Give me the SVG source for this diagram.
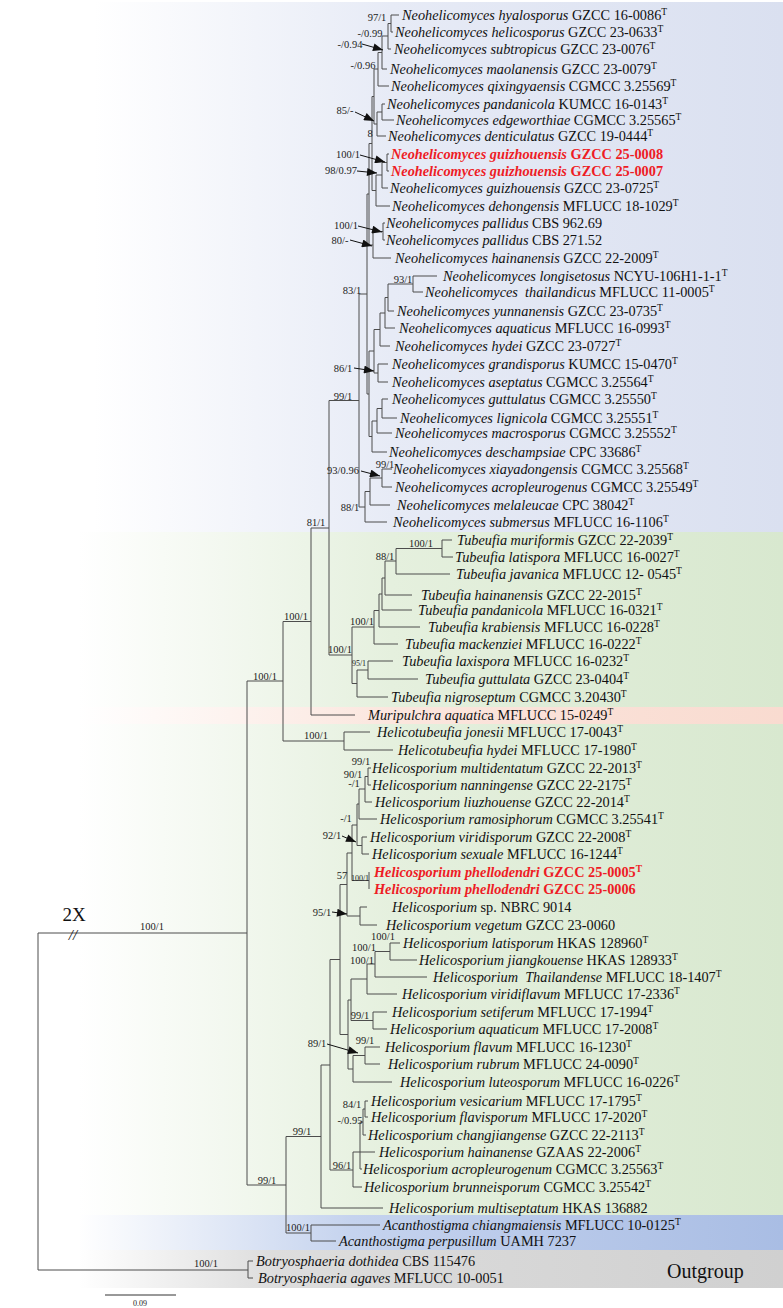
<svg xmlns="http://www.w3.org/2000/svg" width="783" height="1308" viewBox="0 0 783 1308">
<style>
.lf{font-family:"Liberation Serif","Times New Roman",serif;font-size:14.3px;fill:#111}
.i{font-style:italic}
.rd{fill:#ee1c25;font-weight:bold}
.s{font-size:9.5px}
.bs{font-family:"Liberation Serif","Times New Roman",serif;font-size:10.5px;fill:#222;text-anchor:middle}
.sm{font-size:8px}
.br{stroke:#4d4d4d;stroke-width:1;fill:none}
.ar{stroke:#111;stroke-width:1;fill:none;marker-end:url(#ah)}
</style>
<defs>
<marker id="ah" viewBox="0 0 10 8" markerWidth="11" markerHeight="8" refX="10" refY="4" orient="auto" markerUnits="userSpaceOnUse"><path d="M0,0 L10,4 L0,8 z" fill="#111"/></marker>
<linearGradient id="gBlue" gradientUnits="userSpaceOnUse" x1="0" y1="0" x2="783" y2="0"><stop offset="0" stop-color="#fff"/><stop offset="0.12" stop-color="#fff"/><stop offset="0.5" stop-color="#e7ebf6"/><stop offset="1" stop-color="#dae0f0"/></linearGradient>
<linearGradient id="gGreen" gradientUnits="userSpaceOnUse" x1="0" y1="0" x2="783" y2="0"><stop offset="0" stop-color="#fff"/><stop offset="0.1" stop-color="#fff"/><stop offset="0.5" stop-color="#e5f0de"/><stop offset="1" stop-color="#d8e8cf"/></linearGradient>
<linearGradient id="gPink" gradientUnits="userSpaceOnUse" x1="0" y1="0" x2="783" y2="0"><stop offset="0" stop-color="#fff"/><stop offset="0.1" stop-color="#fff"/><stop offset="0.5" stop-color="#fbe6de"/><stop offset="1" stop-color="#f9dbd0"/></linearGradient>
<linearGradient id="gAc" gradientUnits="userSpaceOnUse" x1="0" y1="0" x2="783" y2="0"><stop offset="0" stop-color="#fff"/><stop offset="0.1" stop-color="#fff"/><stop offset="0.45" stop-color="#c5d3ee"/><stop offset="1" stop-color="#a9bde4"/></linearGradient>
<linearGradient id="gGray" gradientUnits="userSpaceOnUse" x1="0" y1="0" x2="783" y2="0"><stop offset="0" stop-color="#fff"/><stop offset="0.1" stop-color="#fff"/><stop offset="0.35" stop-color="#dddddd"/><stop offset="1" stop-color="#d0d0d0"/></linearGradient>
</defs>
<rect width="783" height="1308" fill="#fff"/>
<g id="bands">
<rect x="0" y="2" width="783" height="530" fill="url(#gBlue)"/>
<rect x="0" y="532" width="783" height="175" fill="url(#gGreen)"/>
<rect x="0" y="707" width="783" height="17" fill="url(#gPink)"/>
<rect x="0" y="724" width="783" height="491" fill="url(#gGreen)"/>
<rect x="0" y="1215" width="783" height="35" fill="url(#gAc)"/>
<rect x="0" y="1250" width="783" height="38" fill="url(#gGray)"/>
</g>
<g id="connectors" class="br">
<path d="M38 933V1270M38 933H247M38 1270H248M248 1261V1278M248 1261H253M248 1278H253"/>
<path d="M247 681V1185M247 681H283M247 1185H286"/>
<path d="M283 621.5V741M283 621.5H311M283 741H344"/>
<path d="M311 528V715M311 528H329M311 715H355"/>
<path d="M329 400.5V655M329 400.5H359M329 655H352"/>
<path d="M344 732V750M344 732H370M344 750H393"/>
<path d="M286 1136.5V1233M286 1136.5H321M286 1233H311"/>
<path d="M311 1225V1241M311 1225H380M311 1241H336"/>
<path d="M321 1065V1208M321 1065H330M321 1208H383"/>
<path d="M330 959.5V1170M330 959.5H340M330 1170H353"/>
<path d="M353 1152V1187M353 1152H360M353 1187H362"/>
<path d="M360 1122V1169M360 1122H363M360 1152H375M360 1169H362"/>
<path d="M363 1109V1135M363 1109H365M363 1135H366"/>
<path d="M365 1101V1117M365 1101H368M365 1117H368"/>
<path d="M340 884.5V1034.5M340 884.5H347M340 1034.5H348"/>
<path d="M348 1000V1069M348 1000H351M348 1069H353"/>
<path d="M353 1055.5V1082M353 1055.5H365M353 1082H392"/>
<path d="M365 1047V1064M365 1047H380M365 1064H380"/>
<path d="M351 979V1020.5M351 979H367M351 1020.5H373"/>
<path d="M373 1012V1029M373 1012H387M373 1029H387"/>
<path d="M367 964V994M367 964H375M367 994H397"/>
<path d="M375 951.5V977M375 951.5H390M375 977H427"/>
<path d="M390 943V960M390 943H400M390 960H417"/>
<path d="M347 853V916M347 853H352M347 916H360"/>
<path d="M360 907V925M360 907H367M360 925H377"/>
<path d="M352 825V880.5M352 825H357M352 880.5H369"/>
<path d="M369 872V889"/>
<path d="M357 804V845.5M357 804H359M357 845.5H362"/>
<path d="M362 837V854M362 837H367M362 854H369"/>
<path d="M359 789V819M359 789H365M359 819H377"/>
<path d="M365 776.5V802M365 776.5H368M365 802H372"/>
<path d="M368 768V785M368 768H371M368 785H371"/>
<path d="M352 627V683.5M352 627H374M352 683.5H357"/>
<path d="M357 670V697M357 670H368M357 697H388"/>
<path d="M368 661V679M368 661H393M368 679H418"/>
<path d="M374 610.5V644M374 610.5H379M374 644H398"/>
<path d="M379 594V627M379 594H382M379 627H420"/>
<path d="M382 578V610M382 578H385M382 610H412"/>
<path d="M385 561V595M385 561H396M385 595H412"/>
<path d="M396 548.5V574M396 548.5H442M396 574H450"/>
<path d="M442 540V557M442 540H452M442 557H453"/>
<path d="M359 294V507M359 294H367M359 507H365"/>
<path d="M365 491.5V522M365 491.5H370M365 522H387"/>
<path d="M370 478V505M370 478H382M370 505H390"/>
<path d="M382 469V487M382 469H392M382 487H392"/>
<path d="M367 194V394M367 194H369M367 394H369"/>
<path d="M369 351V436.5M369 351H374M369 436.5H372"/>
<path d="M372 421V452M372 421H377M372 452H387"/>
<path d="M377 408.5V433M377 408.5H382M377 433H392"/>
<path d="M382 399V418M382 399H388M382 418H397"/>
<path d="M374 329.5V373M374 329.5H380M374 373H378"/>
<path d="M378 364V382M378 364H388M378 382H388"/>
<path d="M380 313V346M380 313H385M380 346H390"/>
<path d="M385 297.5V328M385 297.5H388M385 328H395"/>
<path d="M388 284V311M388 284H413M388 311H394"/>
<path d="M413 276V292M413 276H437M413 292H423"/>
<path d="M369 143.5V245M369 143.5H372M369 245H373"/>
<path d="M373 231.5V258M373 231.5H383M373 258H391"/>
<path d="M383 223V240M383 223H385M383 240H385"/>
<path d="M372 96.5V190.5M372 96.5H374M372 190.5H376"/>
<path d="M376 175V206M376 175H382M376 206H390"/>
<path d="M382 162.5V188M382 162.5H387M382 188H388"/>
<path d="M387 154V171M387 154H389M387 171H389"/>
<path d="M374 69V124M374 69H378M374 124H377"/>
<path d="M377 112V136M377 112H382M377 136H386"/>
<path d="M382 104V120M382 104H385M382 120H394"/>
<path d="M378 52.5V86M378 52.5H382M378 86H389"/>
<path d="M382 36V69M382 36H388M382 69H387"/>
<path d="M388 23.5V49M388 23.5H391M388 49H391"/>
<path d="M391 15V32M391 15H399M391 32H393"/>
<path d="M105 1295H176" stroke="#333"/>
</g>
<g id="arrows">
<path class="ar" d="M362 44L383 50"/>
<path class="ar" d="M355 112L374 121"/>
<path class="ar" d="M360 155L385 162"/>
<path class="ar" d="M357 171L377 173"/>
<path class="ar" d="M358 226L382 232"/>
<path class="ar" d="M350 240L372 246"/>
<path class="ar" d="M354 368L374 371"/>
<path class="ar" d="M361 471L380 476"/>
<path class="ar" d="M342 836L356 842"/>
<path class="ar" d="M332 912L347 914"/>
<path class="ar" d="M327 1044L358 1053"/>
</g>
<g id="support">
<text class="bs" x="377" y="21">97/1</text>
<text class="bs" x="370" y="36.5">-/0.99</text>
<text class="bs" x="350" y="47.5">-/0.94</text>
<text class="bs" x="363" y="68.5">-/0.96</text>
<text class="bs" x="345" y="113.5">85/-</text>
<text class="bs" x="370" y="137">8</text>
<text class="bs" x="348" y="157.5">100/1</text>
<text class="bs" x="341" y="173.5">98/0.97</text>
<text class="bs" x="346" y="228.5">100/1</text>
<text class="bs" x="340" y="243.5">80/-</text>
<text class="bs" x="403" y="282.5">93/1</text>
<text class="bs" x="352" y="294">83/1</text>
<text class="bs" x="343" y="371.5">86/1</text>
<text class="bs" x="343" y="399.5">99/1</text>
<text class="bs" x="343" y="473.5">93/0.96</text>
<text class="bs" x="385" y="467.5">99/1</text>
<text class="bs" x="350" y="510.5">88/1</text>
<text class="bs" x="316" y="526">81/1</text>
<text class="bs" x="421" y="546.5">100/1</text>
<text class="bs" x="385" y="559.5">88/1</text>
<text class="bs" x="362" y="624.5">100/1</text>
<text class="bs" x="340" y="652.5">100/1</text>
<text class="bs sm" x="359" y="665.5">95/1</text>
<text class="bs" x="296" y="619.5">100/1</text>
<text class="bs" x="265" y="679.5">100/1</text>
<text class="bs" x="316" y="738.5">100/1</text>
<text class="bs" x="361" y="764.5">99/1</text>
<text class="bs" x="353" y="777.5">90/1</text>
<text class="bs" x="354" y="786.5">-/1</text>
<text class="bs" x="346" y="821.5">-/1</text>
<text class="bs" x="332" y="838.5">92/1</text>
<text class="bs" x="342" y="878.5">57</text>
<text class="bs sm" x="360" y="881">100/1</text>
<text class="bs" x="322" y="915.5">95/1</text>
<text class="bs" x="383" y="940">100/1</text>
<text class="bs" x="364" y="950.5">100/1</text>
<text class="bs" x="362" y="963.5">100/1</text>
<text class="bs" x="360" y="1019">99/1</text>
<text class="bs" x="365" y="1043.5">99/1</text>
<text class="bs" x="317" y="1046.5">89/1</text>
<text class="bs" x="352" y="1107.5">84/1</text>
<text class="bs" x="350" y="1123.5">-/0.95</text>
<text class="bs" x="302" y="1134.5">99/1</text>
<text class="bs" x="342" y="1168.5">96/1</text>
<text class="bs" x="267" y="1183.5">99/1</text>
<text class="bs" x="298" y="1231">100/1</text>
<text class="bs" x="152" y="930">100/1</text>
<text class="bs" x="206" y="1267">100/1</text>
<text class="bs sm" x="140" y="1306">0.09</text>
<text x="74" y="921" font-family="Liberation Serif, serif" font-size="19" text-anchor="middle" fill="#111">2X</text>
<text x="73" y="940" font-family="Liberation Serif, serif" font-size="15" font-style="italic" text-anchor="middle" fill="#111">//</text>
<text x="667" y="1278" font-family="Liberation Serif, serif" font-size="20" fill="#111">Outgroup</text>
</g>
<g id="taxa" class="lf">
<g id="t01"><text x="402" y="19.5"><tspan class="i">Neohelicomyces hyalosporus</tspan> GZCC 16-0086<tspan class="s" dy="-5">T</tspan></text></g>
<g id="t02"><text x="395" y="36.5"><tspan class="i">Neohelicomyces helicosporus</tspan> GZCC 23-0633<tspan class="s" dy="-5">T</tspan></text></g>
<g id="t03"><text x="394" y="53.5"><tspan class="i">Neohelicomyces subtropicus</tspan> GZCC 23-0076<tspan class="s" dy="-5">T</tspan></text></g>
<g id="t04"><text x="390" y="73.5"><tspan class="i">Neohelicomyces maolanensis</tspan> GZCC 23-0079<tspan class="s" dy="-5">T</tspan></text></g>
<g id="t05"><text x="391" y="90.5"><tspan class="i">Neohelicomyces qixingyaensis</tspan> CGMCC 3.25569<tspan class="s" dy="-5">T</tspan></text></g>
<g id="t06"><text x="387" y="108.5"><tspan class="i">Neohelicomyces pandanicola</tspan> KUMCC 16-0143<tspan class="s" dy="-5">T</tspan></text></g>
<g id="t07"><text x="396" y="124.5"><tspan class="i">Neohelicomyces edgeworthiae</tspan> CGMCC 3.25565<tspan class="s" dy="-5">T</tspan></text></g>
<g id="t08"><text x="388" y="140.5"><tspan class="i">Neohelicomyces denticulatus</tspan> GZCC 19-0444<tspan class="s" dy="-5">T</tspan></text></g>
<g id="t09"><text class="rd" x="391" y="158.5"><tspan class="i">Neohelicomyces guizhouensis</tspan> GZCC 25-0008</text></g>
<g id="t10"><text class="rd" x="391" y="175.5"><tspan class="i">Neohelicomyces guizhouensis</tspan> GZCC 25-0007</text></g>
<g id="t11"><text x="390" y="192.5"><tspan class="i">Neohelicomyces guizhouensis</tspan> GZCC 23-0725<tspan class="s" dy="-5">T</tspan></text></g>
<g id="t12"><text x="392" y="210.5"><tspan class="i">Neohelicomyces dehongensis</tspan> MFLUCC 18-1029<tspan class="s" dy="-5">T</tspan></text></g>
<g id="t13"><text x="386" y="227.5"><tspan class="i">Neohelicomyces pallidus</tspan> CBS 962.69</text></g>
<g id="t14"><text x="386" y="244.5"><tspan class="i">Neohelicomyces pallidus</tspan> CBS 271.52</text></g>
<g id="t15"><text x="395" y="262.5"><tspan class="i">Neohelicomyces hainanensis</tspan> GZCC 22-2009<tspan class="s" dy="-5">T</tspan></text></g>
<g id="t16"><text x="443" y="280.5"><tspan class="i">Neohelicomyces longisetosus</tspan> NCYU-106H1-1-1<tspan class="s" dy="-5">T</tspan></text></g>
<g id="t17"><text x="425" y="296.5" xml:space="preserve"><tspan class="i">Neohelicomyces  thailandicus</tspan> MFLUCC 11-0005<tspan class="s" dy="-5">T</tspan></text></g>
<g id="t18"><text x="397" y="315.5"><tspan class="i">Neohelicomyces yunnanensis</tspan> GZCC 23-0735<tspan class="s" dy="-5">T</tspan></text></g>
<g id="t19"><text x="399" y="332.5"><tspan class="i">Neohelicomyces aquaticus</tspan> MFLUCC 16-0993<tspan class="s" dy="-5">T</tspan></text></g>
<g id="t20"><text x="395" y="350.5"><tspan class="i">Neohelicomyces hydei</tspan> GZCC 23-0727<tspan class="s" dy="-5">T</tspan></text></g>
<g id="t21"><text x="392" y="368.5"><tspan class="i">Neohelicomyces grandisporus</tspan> KUMCC 15-0470<tspan class="s" dy="-5">T</tspan></text></g>
<g id="t22"><text x="392" y="386.5"><tspan class="i">Neohelicomyces aseptatus</tspan> CGMCC 3.25564<tspan class="s" dy="-5">T</tspan></text></g>
<g id="t23"><text x="392" y="403.5"><tspan class="i">Neohelicomyces guttulatus</tspan> CGMCC 3.25550<tspan class="s" dy="-5">T</tspan></text></g>
<g id="t24"><text x="400" y="422.5"><tspan class="i">Neohelicomyces lignicola</tspan> CGMCC 3.25551<tspan class="s" dy="-5">T</tspan></text></g>
<g id="t25"><text x="395" y="438"><tspan class="i">Neohelicomyces macrosporus</tspan> CGMCC 3.25552<tspan class="s" dy="-5">T</tspan></text></g>
<g id="t26"><text x="389" y="456.5"><tspan class="i">Neohelicomyces deschampsiae</tspan> CPC 33686<tspan class="s" dy="-5">T</tspan></text></g>
<g id="t27"><text x="393" y="473.5"><tspan class="i">Neohelicomyces xiayadongensis</tspan> CGMCC 3.25568<tspan class="s" dy="-5">T</tspan></text></g>
<g id="t28"><text x="395" y="491.5"><tspan class="i">Neohelicomyces acropleurogenus</tspan> CGMCC 3.25549<tspan class="s" dy="-5">T</tspan></text></g>
<g id="t29"><text x="397" y="509.5"><tspan class="i">Neohelicomyces melaleucae</tspan> CPC 38042<tspan class="s" dy="-5">T</tspan></text></g>
<g id="t30"><text x="393" y="526.5"><tspan class="i">Neohelicomyces submersus</tspan> MFLUCC 16-1106<tspan class="s" dy="-5">T</tspan></text></g>
<g id="t31"><text x="457" y="544.5"><tspan class="i">Tubeufia muriformis</tspan> GZCC 22-2039<tspan class="s" dy="-5">T</tspan></text></g>
<g id="t32"><text x="455" y="561.5"><tspan class="i">Tubeufia latispora</tspan> MFLUCC 16-0027<tspan class="s" dy="-5">T</tspan></text></g>
<g id="t33"><text x="456" y="578.5"><tspan class="i">Tubeufia javanica</tspan> MFLUCC 12- 0545<tspan class="s" dy="-5">T</tspan></text></g>
<g id="t34"><text x="421" y="599.5"><tspan class="i">Tubeufia hainanensis</tspan> GZCC 22-2015<tspan class="s" dy="-5">T</tspan></text></g>
<g id="t35"><text x="418" y="614.5"><tspan class="i">Tubeufia pandanicola</tspan> MFLUCC 16-0321<tspan class="s" dy="-5">T</tspan></text></g>
<g id="t36"><text x="428" y="631.5"><tspan class="i">Tubeufia krabiensis</tspan> MFLUCC 16-0228<tspan class="s" dy="-5">T</tspan></text></g>
<g id="t37"><text x="405" y="648.5"><tspan class="i">Tubeufia mackenziei</tspan> MFLUCC 16-0222<tspan class="s" dy="-5">T</tspan></text></g>
<g id="t38"><text x="402" y="665.5"><tspan class="i">Tubeufia laxispora</tspan> MFLUCC 16-0232<tspan class="s" dy="-5">T</tspan></text></g>
<g id="t39"><text x="425" y="683.5"><tspan class="i">Tubeufia guttulata</tspan> GZCC 23-0404<tspan class="s" dy="-5">T</tspan></text></g>
<g id="t40"><text x="391" y="701.5"><tspan class="i">Tubeufia nigroseptum</tspan> CGMCC 3.20430<tspan class="s" dy="-5">T</tspan></text></g>
<g id="t41"><text x="368" y="719.5"><tspan class="i">Muripulchra aquatic</tspan>a MFLUCC 15-0249<tspan class="s" dy="-5">T</tspan></text></g>
<g id="t42"><text x="377" y="736.5"><tspan class="i">Helicotubeufia jonesii</tspan> MFLUCC 17-0043<tspan class="s" dy="-5">T</tspan></text></g>
<g id="t43"><text x="398" y="754.5"><tspan class="i">Helicotubeufia hydei</tspan> MFLUCC 17-1980<tspan class="s" dy="-5">T</tspan></text></g>
<g id="t44"><text x="372" y="772.5"><tspan class="i">Helicosporium multidentatum</tspan> GZCC 22-2013<tspan class="s" dy="-5">T</tspan></text></g>
<g id="t45"><text x="372" y="789.5"><tspan class="i">Helicosporium nanningense</tspan> GZCC 22-2175<tspan class="s" dy="-5">T</tspan></text></g>
<g id="t46"><text x="375" y="806.5"><tspan class="i">Helicosporium liuzhouense</tspan> GZCC 22-2014<tspan class="s" dy="-5">T</tspan></text></g>
<g id="t47"><text x="380" y="823.5"><tspan class="i">Helicosporium ramosiphorum</tspan> CGMCC 3.25541<tspan class="s" dy="-5">T</tspan></text></g>
<g id="t48"><text x="370" y="841.5"><tspan class="i">Helicosporium viridisporum</tspan> GZCC 22-2008<tspan class="s" dy="-5">T</tspan></text></g>
<g id="t49"><text x="372" y="858.5"><tspan class="i">Helicosporium sexuale</tspan> MFLUCC 16-1244<tspan class="s" dy="-5">T</tspan></text></g>
<g id="t50"><text class="rd" x="374" y="876.5"><tspan class="i">Helicosporium phellodendri</tspan> GZCC 25-0005<tspan class="s" dy="-5">T</tspan></text></g>
<g id="t51"><text class="rd" x="374" y="893.5"><tspan class="i">Helicosporium phellodendri</tspan> GZCC 25-0006</text></g>
<g id="t52"><text x="392" y="911.5"><tspan class="i">Helicosporium</tspan> sp. NBRC 9014</text></g>
<g id="t53"><text x="386" y="929.5"><tspan class="i">Helicosporium vegetum</tspan> GZCC 23-0060</text></g>
<g id="t54"><text x="403" y="947.5"><tspan class="i">Helicosporium latisporum</tspan> HKAS 128960<tspan class="s" dy="-5">T</tspan></text></g>
<g id="t55"><text x="419" y="964.5"><tspan class="i">Helicosporium jiangkouense</tspan> HKAS 128933<tspan class="s" dy="-5">T</tspan></text></g>
<g id="t56"><text x="433" y="981.5" xml:space="preserve"><tspan class="i">Helicosporium  Thailandense</tspan> MFLUCC 18-1407<tspan class="s" dy="-5">T</tspan></text></g>
<g id="t57"><text x="402" y="998.5"><tspan class="i">Helicosporium viridiflavum</tspan> MFLUCC 17-2336<tspan class="s" dy="-5">T</tspan></text></g>
<g id="t58"><text x="392" y="1016.5"><tspan class="i">Helicosporium setiferum</tspan> MFLUCC 17-1994<tspan class="s" dy="-5">T</tspan></text></g>
<g id="t59"><text x="390" y="1033.5"><tspan class="i">Helicosporium aquaticum</tspan> MFLUCC 17-2008<tspan class="s" dy="-5">T</tspan></text></g>
<g id="t60"><text x="385" y="1051.5"><tspan class="i">Helicosporium flavum</tspan> MFLUCC 16-1230<tspan class="s" dy="-5">T</tspan></text></g>
<g id="t61"><text x="388" y="1068.5"><tspan class="i">Helicosporium rubrum</tspan> MFLUCC 24-0090<tspan class="s" dy="-5">T</tspan></text></g>
<g id="t62"><text x="400" y="1086.5"><tspan class="i">Helicosporium luteosporum</tspan> MFLUCC 16-0226<tspan class="s" dy="-5">T</tspan></text></g>
<g id="t63"><text x="371" y="1105.5"><tspan class="i">Helicosporium vesicarium</tspan> MFLUCC 17-1795<tspan class="s" dy="-5">T</tspan></text></g>
<g id="t64"><text x="371" y="1121.5"><tspan class="i">Helicosporium flavisporum</tspan> MFLUCC 17-2020<tspan class="s" dy="-5">T</tspan></text></g>
<g id="t65"><text x="368" y="1139.5"><tspan class="i">Helicosporium changjiangense</tspan> GZCC 22-2113<tspan class="s" dy="-5">T</tspan></text></g>
<g id="t66"><text x="379" y="1156.5"><tspan class="i">Helicosporium hainanense</tspan> GZAAS 22-2006<tspan class="s" dy="-5">T</tspan></text></g>
<g id="t67"><text x="363" y="1173.5"><tspan class="i">Helicosporium acropleurogenum</tspan> CGMCC 3.25563<tspan class="s" dy="-5">T</tspan></text></g>
<g id="t68"><text x="364" y="1191.5"><tspan class="i">Helicosporium brunneisporum</tspan> CGMCC 3.25542<tspan class="s" dy="-5">T</tspan></text></g>
<g id="t69"><text x="389" y="1212.5"><tspan class="i">Helicosporium multiseptatum</tspan> HKAS 136882</text></g>
<g id="t70"><text x="383" y="1229.5"><tspan class="i">Acanthostigma chiangmaiensis</tspan> MFLUCC 10-0125<tspan class="s" dy="-5">T</tspan></text></g>
<g id="t71"><text x="339" y="1245.5"><tspan class="i">Acanthostigma perpusillum</tspan> UAMH 7237</text></g>
<g id="t72"><text x="256" y="1265.5"><tspan class="i">Botryosphaeria dothidea</tspan> CBS 115476</text></g>
<g id="t73"><text x="258" y="1282.5"><tspan class="i">Botryosphaeria agaves</tspan> MFLUCC 10-0051</text></g>
</g>
</svg>
